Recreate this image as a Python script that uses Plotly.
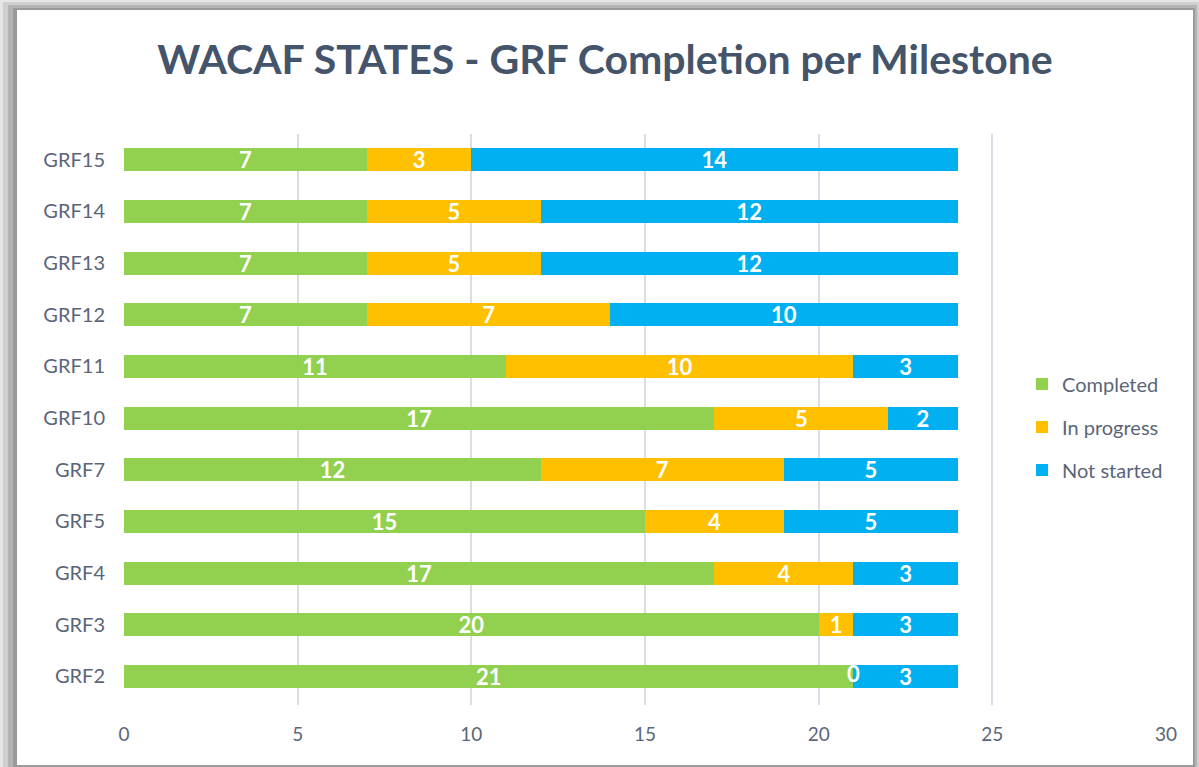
import plotly.graph_objects as go

categories = ["GRF2", "GRF3", "GRF4", "GRF5", "GRF7", "GRF10", "GRF11", "GRF12", "GRF13", "GRF14", "GRF15"]
completed = [21, 20, 17, 15, 12, 17, 11, 7, 7, 7, 7]
in_progress = [0, 1, 4, 4, 7, 5, 10, 7, 5, 5, 3]
not_started = [3, 3, 3, 5, 5, 2, 3, 10, 12, 12, 14]
x_ticks = [0, 5, 10, 15, 20, 25, 30]

W, H = 1199, 767
L, R, T, B = 124, 33, 134, 62
PW, PH = W - L - R, H - T - B

def px(x):
    return (x - L) / PW

def py(y):
    return (H - B - y) / PH

FONT = "Lato"
label_font = dict(family=FONT, size=22, color="white", weight="bold")

fig = go.Figure()
series = [("Completed", completed, "#92d050"),
          ("In progress", in_progress, "#ffc000"),
          ("Not started", not_started, "#00b0f0")]
for name, vals, col in series:
    fig.add_trace(go.Bar(
        y=categories, x=vals, name=name, orientation="h", legendgroup=name,
        marker=dict(color=col, line=dict(width=0)),
        text=[str(v) for v in vals], textposition="inside", textangle=0,
        insidetextanchor="middle", textfont=label_font,
        constraintext="none",
    ))

# labels for zero-width segments (drawn at the segment position from the data)
zx, zy, zt = [], [], []
for c, p, cat in zip(completed, in_progress, categories):
    if p == 0:
        zx.append(c + p / 2)
        zy.append(cat)
        zt.append(str(p))
fig.add_trace(go.Scatter(x=zx, y=zy, text=zt, mode="text", textposition="middle center",
                         textfont=label_font, showlegend=False, hoverinfo="skip"))

shapes = []
for (x0, y0, x1, y1, c) in [(0, 0, W, H, "#e6e6e6"), (3, 2, W, H, "#cfcfcf"),
                            (8, 5, W - 2, H, "#b4b4b4"), (13, 8, W - 4, H, "#9a9a9a")]:
    shapes.append(dict(type="rect", xref="paper", yref="paper", layer="below",
                       x0=px(x0), x1=px(x1), y0=py(y1), y1=py(y0),
                       fillcolor=c, line=dict(width=0)))
shapes.append(dict(type="rect", xref="paper", yref="paper", layer="below",
                   x0=px(17), x1=px(1193), y0=py(765), y1=py(10),
                   fillcolor="white", line=dict(width=0)))

fig.update_layout(
    width=W, height=H,
    margin=dict(l=L, r=R, t=T, b=B),
    barmode="stack", bargap=0.555,
    paper_bgcolor="#e6e6e6", plot_bgcolor="rgba(0,0,0,0)",
    shapes=shapes,
    title=dict(text="<b>WACAF STATES - GRF Completion per Milestone</b>",
               xref="container", x=605 / W, xanchor="center",
               yref="container", y=1 - 60 / H, yanchor="middle",
               font=dict(family=FONT, size=41, color="#44546a")),
    xaxis=dict(range=[0, 30], tickvals=x_ticks, showgrid=True,
               gridcolor="#d9dee6", gridwidth=2, zeroline=False,
               showline=False, ticks="", ticklabelstandoff=16,
               tickfont=dict(family=FONT, size=19, color="#5b6579")),
    yaxis=dict(categoryorder="array", categoryarray=categories,
               showgrid=False, showline=False, ticks="", ticklabelstandoff=18,
               tickfont=dict(family=FONT, size=20, color="#5b6579")),
    legend=dict(x=px(1022), xanchor="left", y=py(427), yanchor="middle",
                bgcolor="rgba(0,0,0,0)", traceorder="grouped",
                font=dict(family=FONT, size=20, color="#5b6579"),
                itemwidth=30, tracegroupgap=14),
    showlegend=True,
)

fig.write_html("out.html", config={"displayModeBar": False},
               post_script="document.body.style.margin='0';")
